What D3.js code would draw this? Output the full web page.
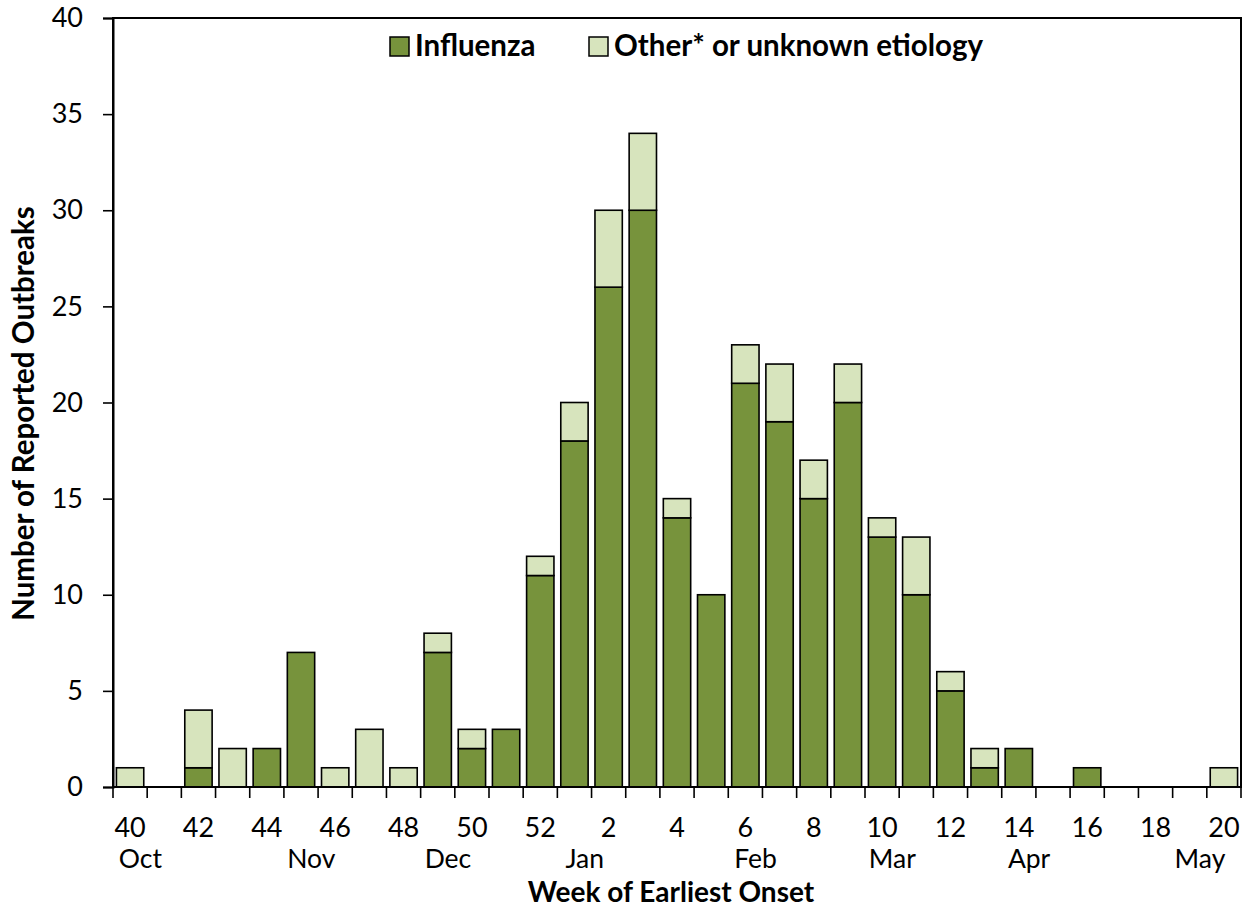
<!DOCTYPE html>
<html>
<head>
<meta charset="utf-8">
<script src="https://cdn.jsdelivr.net/npm/d3@7"></script>
<style>
  body { margin: 0; background: #fff; }
  svg text { font-family: Lato, "Open Sans", sans-serif; fill: #000; }
</style>
</head>
<body>
<svg id="chart" width="1251" height="909"></svg>
<script>
// weeks of earliest onset, season order
const weeks = ['40','41','42','43','44','45','46','47','48','49','50','51','52',
  '1','2','3','4','5','6','7','8','9','10','11','12','13','14','15','16','17','18','19','20'];
const influenza = [0,0,1,0,2,7,0,0,0,7,2,3,11,18,26,30,14,10,21,19,15,20,13,10,5,1,2,0,1,0,0,0,0];
const otherUnknown = [1,0,3,2,0,0,1,3,1,1,1,0,1,2,4,4,1,0,2,3,2,2,1,3,1,1,0,0,0,0,0,0,1];
const monthWeeks = ['40','45','49','1','6','10','14','19'];
const monthNames = ['Oct','Nov','Dec','Jan','Feb','Mar','Apr','May'];
const yTicks = [0,5,10,15,20,25,30,35,40];

const COLORS = { flu: '#77933C', other: '#D7E4BD' };

const svg = d3.select('#chart');
const margin = { left: 113, right: 10, top: 18, bottom: 122 };
const W = 1251, H = 909;
const x0 = margin.left, x1 = W - margin.right;
const yTop = margin.top, yBot = H - margin.bottom;

const x = d3.scaleBand().domain(weeks).range([x0, x1]).paddingInner(0.2).paddingOuter(0.1);
const y = d3.scaleLinear().domain([0, 40]).range([yBot, yTop]);
const step = x.step();

// stacked bars
const rows = weeks.map((w, i) => ({ week: w, flu: influenza[i], other: otherUnknown[i] }));
const stack = d3.stack().keys(['flu', 'other'])(rows);

const barsG = svg.append('g');
stack.forEach(layer => {
  barsG.selectAll(null)
    .data(layer.filter(d => d[1] > d[0]))
    .enter().append('rect')
    .attr('x', d => x(d.data.week))
    .attr('y', d => y(d[1]))
    .attr('width', x.bandwidth())
    .attr('height', d => y(d[0]) - y(d[1]))
    .attr('fill', COLORS[layer.key])
    .attr('stroke', '#000')
    .attr('stroke-width', 1.6);
});

// frame
svg.append('rect')
  .attr('x', x0).attr('y', yTop)
  .attr('width', x1 - x0).attr('height', yBot - yTop)
  .attr('fill', 'none').attr('stroke', '#000').attr('stroke-width', 2);

// y axis
const yAxis = d3.axisLeft(y).tickValues(yTicks).tickSize(10).tickPadding(20);
const yG = svg.append('g').attr('transform', `translate(${x0},0)`).call(yAxis);
yG.select('.domain').attr('stroke-width', 2);
yG.selectAll('.tick line').attr('stroke-width', 1.6);
yG.selectAll('.tick text').attr('font-size', 27).attr('font-family', 'Lato, sans-serif');

// x ticks at week boundaries
const bounds = d3.range(weeks.length + 1).map(i => x0 + i * step);
svg.append('g').selectAll('line').data(bounds).enter().append('line')
  .attr('x1', d => d).attr('x2', d => d)
  .attr('y1', yBot).attr('y2', yBot + 11)
  .attr('stroke', '#000').attr('stroke-width', 1.6);

// x labels (every other week)
svg.append('g').selectAll('text').data(weeks.filter((w, i) => i % 2 === 0)).enter().append('text')
  .attr('x', d => x(d) + x.bandwidth() / 2)
  .attr('y', yBot + 50)
  .attr('text-anchor', 'middle')
  .attr('font-size', 27)
  .text(d => d);

// month labels
svg.append('g').selectAll('text').data(monthWeeks).enter().append('text')
  .attr('x', d => x(d) + x.bandwidth() / 2 + step * 0.3)
  .attr('y', yBot + 81)
  .attr('text-anchor', 'middle')
  .attr('font-size', 26.5)
  .text((d, i) => monthNames[i]);

// axis titles
svg.append('text')
  .attr('x', 671)
  .attr('y', H - 7)
  .attr('text-anchor', 'middle')
  .attr('font-size', 28)
  .attr('font-weight', 'bold')
  .text('Week of Earliest Onset');

svg.append('text')
  .attr('transform', `translate(34,${(yTop + yBot) / 2 + 11}) rotate(-90)`)
  .attr('text-anchor', 'middle')
  .attr('font-size', 29.5)
  .attr('font-weight', 'bold')
  .text('Number of Reported Outbreaks');

// legend
const legendItems = [
  { label: 'Influenza', color: COLORS.flu, x: 390 },
  { label: 'Other* or unknown etiology', color: COLORS.other, x: 589 }
];
const lg = svg.append('g');
legendItems.forEach(it => {
  lg.append('rect')
    .attr('x', it.x).attr('y', 37).attr('width', 19).attr('height', 19)
    .attr('fill', it.color).attr('stroke', '#000').attr('stroke-width', 1.5);
  lg.append('text')
    .attr('x', it.x + 25).attr('y', 56)
    .attr('font-size', 29.5)
    .attr('font-weight', 'bold')
    .text(it.label);
});
</script>
</body>
</html>
